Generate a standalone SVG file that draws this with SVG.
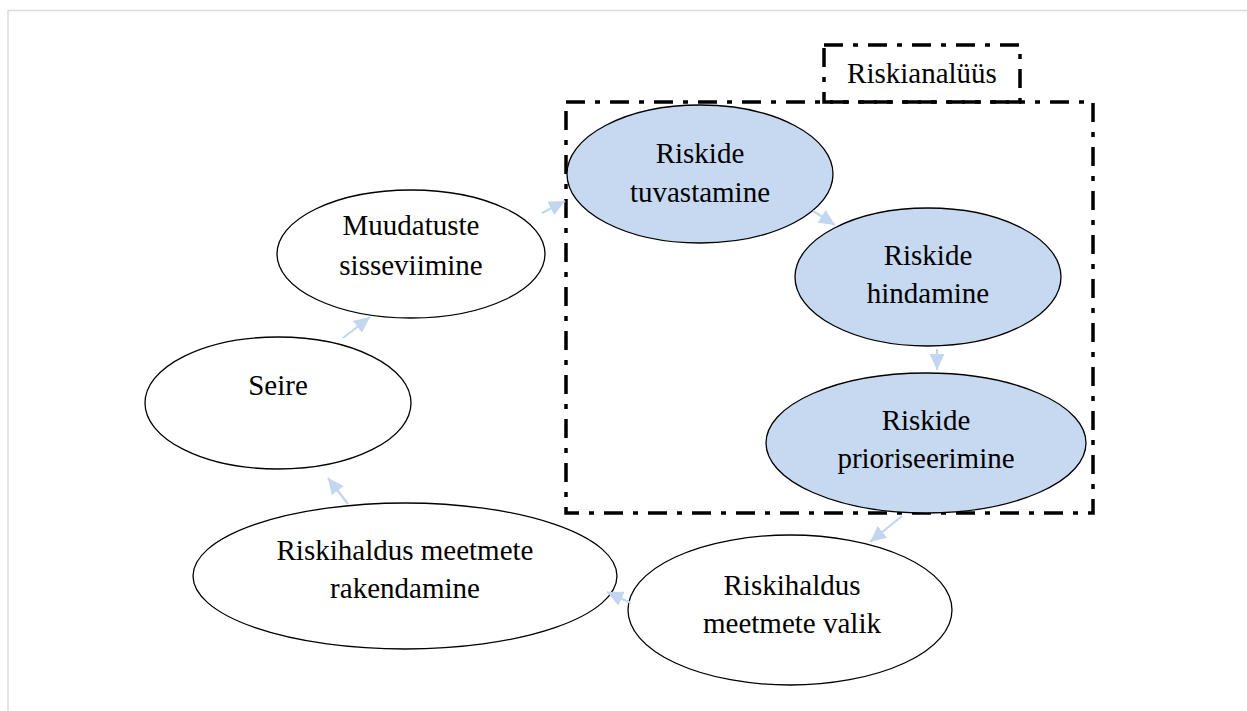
<svg xmlns="http://www.w3.org/2000/svg" width="1247" height="711" viewBox="0 0 1247 711">
  <style>
    .node { stroke: #000; stroke-width: 1.3; }
    .plain { fill: #fff; }
    .blue { fill: #c6d9f0; }
    .lbl { font-family: "Liberation Serif", "Times New Roman", serif; font-size: 29px; fill: #000; text-anchor: middle; }
    .frame { fill: none; stroke: #000; stroke-width: 3.5; stroke-dasharray: 19 10 5 10; }
    .flow { stroke: #c2d6ef; stroke-width: 2.2; fill: none; marker-end: url(#head); }
  </style>
  <defs>
    <marker id="head" markerUnits="userSpaceOnUse" markerWidth="18" markerHeight="16" refX="16" refY="8" orient="auto">
      <path d="M0,0.5 L16,8 L0,15.5 Z" fill="#c2d6ef"/>
    </marker>
  </defs>

  <rect x="0" y="0" width="1247" height="711" fill="#fff"/>
  <!-- page edge -->
  <path d="M8,711 V10.5 H1247" fill="none" stroke="#dcdcdc" stroke-width="1.5"/>

  <!-- analysis frame with its caption tab -->
  <g id="frame">
    <rect class="frame" x="566" y="102" width="527" height="411"/>
    <rect class="frame" x="824" y="45" width="196" height="57" fill="#fff"/>
    <text class="lbl" x="922" y="83">Riskianalüüs</text>
  </g>

  <g id="n-tuvastamine">
    <ellipse class="node blue" cx="700" cy="174" rx="133" ry="69"/>
    <text class="lbl" x="700" y="163">Riskide</text>
    <text class="lbl" x="700" y="202">tuvastamine</text>
  </g>

  <g id="n-hindamine">
    <ellipse class="node blue" cx="928" cy="277" rx="133" ry="69"/>
    <text class="lbl" x="928" y="265">Riskide</text>
    <text class="lbl" x="928" y="303">hindamine</text>
  </g>

  <g id="n-prioriseerimine">
    <ellipse class="node blue" cx="926" cy="443" rx="160" ry="70"/>
    <text class="lbl" x="926" y="430">Riskide</text>
    <text class="lbl" x="926" y="468">prioriseerimine</text>
  </g>

  <g id="n-valik">
    <ellipse class="node plain" cx="790" cy="610" rx="162" ry="75"/>
    <text class="lbl" x="792" y="595">Riskihaldus</text>
    <text class="lbl" x="792" y="633">meetmete valik</text>
  </g>

  <g id="n-rakendamine">
    <ellipse class="node plain" cx="405" cy="576" rx="212" ry="73"/>
    <text class="lbl" x="405" y="560">Riskihaldus meetmete</text>
    <text class="lbl" x="405" y="598">rakendamine</text>
  </g>

  <g id="n-seire">
    <ellipse class="node plain" cx="278" cy="403" rx="133" ry="66"/>
    <text class="lbl" x="278" y="395">Seire</text>
  </g>

  <g id="n-muudatused">
    <ellipse class="node plain" cx="411" cy="254" rx="134" ry="64"/>
    <text class="lbl" x="411" y="235">Muudatuste</text>
    <text class="lbl" x="411" y="275">sisseviimine</text>
  </g>

  <g id="connectors">
    <line class="flow" x1="542" y1="213" x2="565" y2="201"/>
    <line class="flow" x1="813" y1="211" x2="835" y2="225"/>
    <line class="flow" x1="937" y1="349" x2="937" y2="370"/>
    <line class="flow" x1="902" y1="516" x2="870" y2="542"/>
    <line class="flow" x1="631" y1="603" x2="607" y2="592"/>
    <line class="flow" x1="348" y1="504" x2="328" y2="478"/>
    <line class="flow" x1="343" y1="338" x2="370" y2="317"/>
  </g>
</svg>
